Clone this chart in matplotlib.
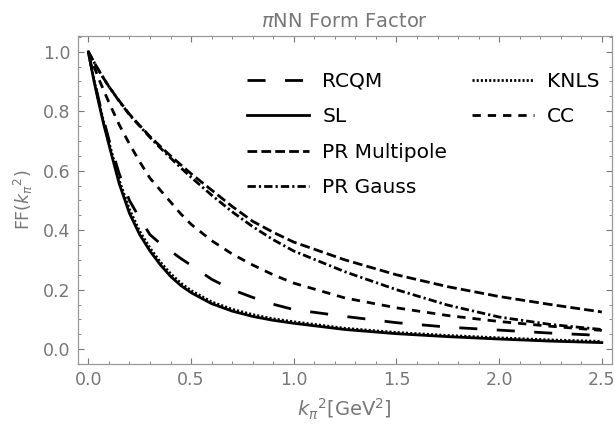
import matplotlib
matplotlib.use('Agg')
import matplotlib.pyplot as plt
from matplotlib.ticker import MultipleLocator

plt.rcParams['lines.scale_dashes'] = False

# k_pi^2 in GeV^2
k2 = [0, 0.025, 0.05, 0.075, 0.1, 0.15, 0.2, 0.25, 0.3, 0.35, 0.4, 0.45,
      0.5, 0.6, 0.7, 0.8, 0.9, 1.0, 1.25, 1.5, 1.75, 2.0, 2.25, 2.5]

ff_rcqm = [1.0, 0.915, 0.84, 0.77, 0.705, 0.59, 0.5, 0.44, 0.385, 0.355, 0.33, 0.305,
           0.282, 0.235, 0.2, 0.174, 0.151, 0.133, 0.11, 0.089, 0.074, 0.064, 0.054, 0.046]
ff_sl = [1.0, 0.91, 0.83, 0.755, 0.688, 0.557, 0.457, 0.385, 0.33, 0.284, 0.245, 0.214,
         0.19, 0.153, 0.128, 0.11, 0.097, 0.087, 0.066, 0.052, 0.042, 0.034, 0.027, 0.022]
ff_pr_multi = [1.0, 0.968, 0.938, 0.91, 0.883, 0.835, 0.79, 0.752, 0.715, 0.682, 0.65, 0.62,
               0.59, 0.535, 0.48, 0.43, 0.393, 0.36, 0.30, 0.25, 0.21, 0.177, 0.15, 0.125]
ff_pr_gauss = [1.0, 0.968, 0.938, 0.91, 0.883, 0.834, 0.788, 0.75, 0.712, 0.677, 0.643, 0.61,
               0.578, 0.518, 0.462, 0.412, 0.368, 0.33, 0.26, 0.2, 0.148, 0.108, 0.083, 0.066]
ff_knls = [1.0, 0.912, 0.835, 0.762, 0.696, 0.568, 0.47, 0.396, 0.34, 0.293, 0.254, 0.222,
           0.197, 0.159, 0.134, 0.116, 0.102, 0.092, 0.07, 0.056, 0.046, 0.038, 0.031, 0.026]
ff_cc = [1.0, 0.955, 0.91, 0.87, 0.83, 0.755, 0.69, 0.63, 0.575, 0.535, 0.495, 0.455,
         0.42, 0.365, 0.32, 0.283, 0.25, 0.222, 0.172, 0.139, 0.113, 0.093, 0.077, 0.063]

gray = '#777777'
lw = 2.0

fig = plt.figure(figsize=(6.15, 4.28), dpi=100)
ax = fig.add_axes([0.1263, 0.1495, 0.8683, 0.7671])

l_rcqm, = ax.plot(k2, ff_rcqm, color='black', lw=lw, dashes=(13, 14), label='RCQM')
l_sl, = ax.plot(k2, ff_sl, color='black', lw=lw, label='SL')
l_multi, = ax.plot(k2, ff_pr_multi, color='black', lw=lw, dashes=(7, 3), label='PR Multipole')
l_gauss, = ax.plot(k2, ff_pr_gauss, color='black', lw=lw, dashes=(6, 2.2, 1.6, 2.2), label='PR Gauss')
l_knls, = ax.plot(k2, ff_knls, color='black', lw=lw, dashes=(1.5, 1.5), label='KNLS')
l_cc, = ax.plot(k2, ff_cc, color='black', lw=lw, dashes=(6, 5), label='CC')

ax.set_xlim(-0.052, 2.548)
ax.set_ylim(-0.05, 1.054)
ax.xaxis.set_major_locator(MultipleLocator(0.5))
ax.xaxis.set_minor_locator(MultipleLocator(0.1))
ax.yaxis.set_major_locator(MultipleLocator(0.2))
ax.yaxis.set_minor_locator(MultipleLocator(0.05))
ax.tick_params(which='both', direction='in', top=True, right=True, color=gray,
               labelcolor=gray, labelsize=12.5)
ax.tick_params(which='major', length=4, width=0.8, pad=5)
ax.tick_params(which='minor', length=2, width=0.6)
for s in ax.spines.values():
    s.set_color('#999999')
    s.set_linewidth(0.9)

ax.set_title(r'$\pi$NN Form Factor', color=gray, fontsize=14, pad=6)
ax.set_xlabel(r'$k_\pi{}^2$[GeV$^2$]', color=gray, fontsize=14, labelpad=6)
ax.set_ylabel(r'FF($k_\pi{}^2$)', color=gray, fontsize=12.5, labelpad=6)

leg_kw = dict(frameon=False, fontsize=14.5, handlelength=3.1, handletextpad=0.65,
              labelspacing=0.82, borderpad=0, borderaxespad=0, loc='upper left')
leg1 = ax.legend(handles=[l_rcqm, l_sl, l_multi, l_gauss], bbox_to_anchor=(0.317, 0.89), **leg_kw)
ax.add_artist(leg1)
ax.legend(handles=[l_knls, l_cc], bbox_to_anchor=(0.738, 0.89), **leg_kw)

fig.savefig('out.png', dpi=100)
